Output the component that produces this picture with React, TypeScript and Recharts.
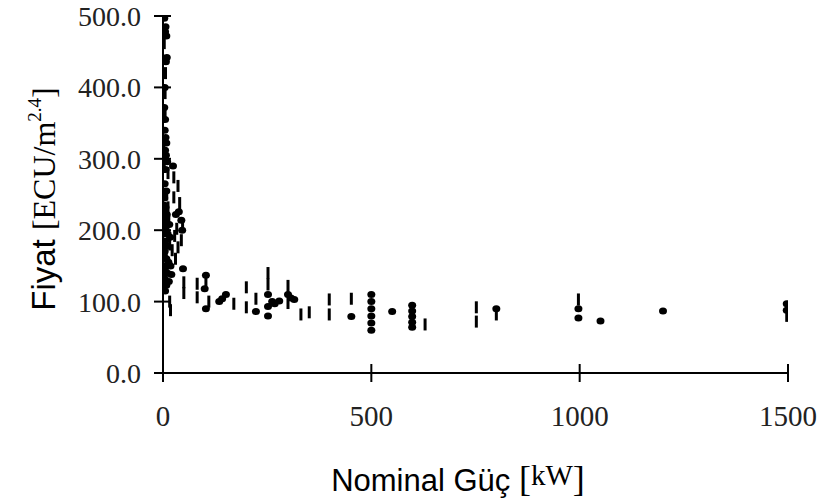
import React from 'react';
import { ScatterChart, Scatter, XAxis, YAxis } from 'recharts';

const xTicks = [0, 500, 1000, 1500];
const yTicks = [0, 100, 200, 300, 400, 500];

const dotPower = [3, 6, 5, 8, 9, 7, 4, 3, 5, 4, 6, 8, 5, 7, 3, 10, 6, 4, 8, 3, 6, 9, 5, 3, 7, 11, 5, 9, 4, 8, 13, 6, 10, 4, 14, 8, 18, 20, 24, 31, 38, 44, 46, 48, 2, 3, 2, 4, 2, 3, 2, 3, 2, 4, 5, 15, 17, 100, 103, 103, 135, 142, 151, 223, 252, 252, 252, 262, 268, 279, 300, 307, 315, 452, 500, 500, 500, 500, 500, 500, 550, 598, 598, 598, 598, 598, 800, 997, 997, 1050, 1200, 1497, 1497];
const dotPrice = [497, 485, 478, 472, 442, 436, 400, 372, 355, 340, 330, 322, 312, 305, 300, 296, 285, 265, 255, 245, 232, 222, 215, 208, 200, 195, 185, 178, 170, 160, 155, 148, 140, 132, 128, 123, 150, 138, 290, 222, 226, 214, 200, 146, 250, 235, 225, 210, 195, 180, 165, 150, 140, 125, 115, 208, 190, 118, 137, 90, 100, 104, 110, 86, 110, 93, 80, 100, 97, 101, 110, 105, 103, 79, 110, 100, 90, 80, 70, 60, 86, 95, 87, 79, 71, 64, 90, 90, 77, 73, 87, 97, 88];

const dashPower = [3, 6, 5, 5, 2, 3, 12, 26, 26, 36, 40, 44, 47, 50, 50, 16, 18, 9, 12, 14, 16, 22, 28, 30, 33, 36, 82, 82, 103, 110, 170, 200, 200, 223, 252, 252, 300, 300, 331, 351, 399, 399, 452, 629, 752, 752, 800, 997, 1497];
const dashPrice = [462, 420, 392, 365, 320, 290, 280, 274, 246, 262, 238, 186, 209, 127, 112, 100, 88, 250, 232, 212, 180, 172, 192, 160, 202, 176, 125, 106, 130, 100, 97, 120, 92, 104, 140, 124, 122, 98, 82, 85, 103, 82, 104, 68, 92, 72, 82, 103, 80];

const dotData = dotPower.map((p, i) => ({ power: p, price: dotPrice[i] }));
const dashData = dashPower.map((p, i) => ({ power: p, price: dashPrice[i] }));

const SERIF = '"Liberation Serif", "Times New Roman", serif';
const SANS = '"Liberation Sans", Arial, sans-serif';

const DotShape = (p: any) => <ellipse cx={p.cx} cy={p.cy} rx={4} ry={3.5} fill="#000" />;
const DashShape = (p: any) => <rect x={p.cx - 1.5} y={p.cy - 6} width={3} height={12} fill="#000" />;

const YTick = ({ x, y, payload }: any) => (
  <g>
    <line x1={x - 9} x2={x + 8} y1={y} y2={y} stroke="#000" strokeWidth={2} />
    <text x={x - 22} y={y} dy={10} textAnchor="end" fontFamily={SERIF} fontSize={28} fill="#222">
      {Number(payload.value).toFixed(1)}
    </text>
  </g>
);

const XTick = ({ x, y, payload }: any) => (
  <g>
    <line x1={x} x2={x} y1={y - 9} y2={y + 9} stroke="#000" strokeWidth={2} />
    <text x={x} y={y + 53} textAnchor="middle" fontFamily={SERIF} fontSize={29} fill="#222">
      {payload.value}
    </text>
  </g>
);

const YTitle = () => (
  <text transform="translate(55,199) rotate(-90)" textAnchor="middle" fill="#000">
    <tspan fontFamily={SANS} fontSize={33}>Fiyat </tspan>
    <tspan fontFamily={SERIF} fontSize={32}>[ECU/m</tspan>
    <tspan fontFamily={SERIF} fontSize={19} dy={-14}>2.4</tspan>
    <tspan fontFamily={SERIF} fontSize={32} dy={14}>]</tspan>
  </text>
);

const XTitle = () => (
  <text x={458} y={491} textAnchor="middle" fill="#000">
    <tspan fontFamily={SANS} fontSize={31}>Nominal Güç </tspan>
    <tspan fontFamily={SERIF} fontSize={36}>[</tspan>
    <tspan fontFamily={SERIF} fontSize={29} dy={-6}>kW</tspan>
    <tspan fontFamily={SERIF} fontSize={36} dy={6}>]</tspan>
  </text>
);

export default function App() {
  return (
    <div style={{ position: 'absolute', left: 0, top: 0, background: '#fff' }}>
      <ScatterChart width={824} height={502} margin={{ top: 16, right: 36, bottom: 0, left: 0 }}>
        <XAxis
          type="number"
          dataKey="power"
          domain={[0, 1500]}
          ticks={xTicks}
          height={129}
          tickSize={0}
          tickMargin={0}
          tickLine={false}
          tick={<XTick />}
          axisLine={{ stroke: '#000', strokeWidth: 2 }}
          allowDataOverflow
          label={<XTitle />}
        />
        <YAxis
          type="number"
          dataKey="price"
          domain={[0, 500]}
          ticks={yTicks}
          width={163}
          tickSize={0}
          tickMargin={0}
          tickLine={false}
          tick={<YTick />}
          axisLine={{ stroke: '#000', strokeWidth: 2 }}
          allowDataOverflow
          label={<YTitle />}
        />
        <Scatter data={dashData} shape={DashShape} isAnimationActive={false} />
        <Scatter data={dotData} shape={DotShape} isAnimationActive={false} />
      </ScatterChart>
    </div>
  );
}
